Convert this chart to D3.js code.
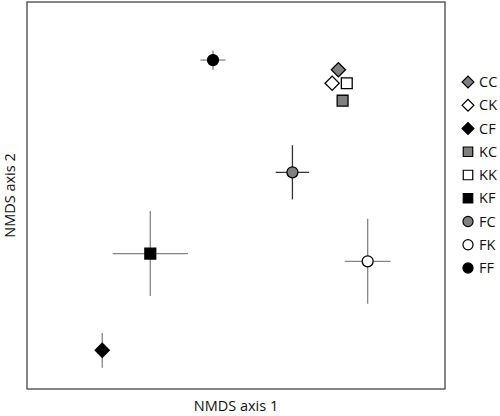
<!DOCTYPE html>
<html>
<head>
<meta charset="utf-8">
<script src="https://cdn.jsdelivr.net/npm/d3@7"></script>
<style>
  body { margin: 0; background: #fff; }
  text { font-family: "Open Sans", "Liberation Sans", sans-serif; fill: #111; }
</style>
</head>
<body>
<div id="chart"></div>
<script>
const width = 500, height = 416;
const margin = {top: 2, right: 55, bottom: 27, left: 27};

// groups and NMDS coordinates (mean, with error)
const groups = ["CC", "CK", "CF", "KC", "KK", "KF", "FC", "FK", "FF"];
const xVals = [0.49, 0.46, -0.64, 0.51, 0.53, -0.41, 0.27, 0.63, -0.11];
const yVals = [0.65, 0.58, -0.80, 0.49, 0.58, -0.30, 0.12, -0.34, 0.70];
const xErr  = [0, 0, 0, 0, 0, 0.18, 0.08, 0.11, 0.06];
const yErr  = [0, 0, 0.09, 0, 0, 0.22, 0.14, 0.22, 0.05];

// first letter -> marker shape, second letter -> fill
const shapes = {C: "diamond", K: "square", F: "circle"};
const fills = {C: "#808080", K: "#ffffff", F: "#000000"};
const errColor = {FC: "#333"};

let svg = d3.select("#chart")
    .append("svg")
    .attr("width", width)
    .attr("height", height);

let plotW = width - margin.left - margin.right;
let plotH = height - margin.top - margin.bottom;

let x = d3.scaleLinear().domain([-1, 1]).range([margin.left, margin.left + plotW]);
let y = d3.scaleLinear().domain([-1, 1]).range([margin.top + plotH, margin.top]);

svg.append("rect")
    .attr("x", margin.left)
    .attr("y", margin.top)
    .attr("width", plotW)
    .attr("height", plotH)
    .attr("fill", "none")
    .attr("stroke", "#444")
    .attr("stroke-width", 1.3);

let data = groups.map(function(g, i) {
    return {name: g, x: xVals[i], y: yVals[i], ex: xErr[i], ey: yErr[i]};
});

function symbolPath(name, big) {
    let shape = shapes[name[0]];
    if (shape === "diamond") return d3.symbol(d3.symbolSquare, big ? 100 : 70)();
    if (shape === "square") return d3.symbol(d3.symbolSquare, big ? 118 : 90)();
    return d3.symbol(d3.symbolCircle, big ? 95 : 80)();
}

function rotation(name) {
    return shapes[name[0]] === "diamond" ? " rotate(45)" : "";
}

// error bars
let err = svg.append("g").attr("stroke-width", 1.3);
data.filter(d => d.ex > 0).forEach(function(d) {
    err.append("line")
        .attr("stroke", errColor[d.name] || "#858585")
        .attr("x1", x(d.x - d.ex)).attr("x2", x(d.x + d.ex))
        .attr("y1", y(d.y)).attr("y2", y(d.y));
});
data.filter(d => d.ey > 0).forEach(function(d) {
    err.append("line")
        .attr("stroke", errColor[d.name] || "#858585")
        .attr("x1", x(d.x)).attr("x2", x(d.x))
        .attr("y1", y(d.y - d.ey)).attr("y2", y(d.y + d.ey));
});

// points
svg.append("g").selectAll("path")
    .data(data)
    .enter()
    .append("path")
    .attr("d", function(d) { return symbolPath(d.name, true); })
    .attr("transform", function(d) {
        return `translate(${x(d.x)}, ${y(d.y)})` + rotation(d.name);
    })
    .attr("fill", function(d) { return fills[d.name[1]]; })
    .attr("stroke", "#000")
    .attr("stroke-width", 1.3);

// legend
let legend = svg.append("g");
let rowY = d3.scalePoint().domain(groups).range([82, 268]);
groups.forEach(function(g) {
    legend.append("path")
        .attr("d", symbolPath(g, false))
        .attr("transform", `translate(468, ${rowY(g)})` + rotation(g))
        .attr("fill", fills[g[1]])
        .attr("stroke", "#000")
        .attr("stroke-width", 1.2);
    legend.append("text")
        .attr("x", 479)
        .attr("y", rowY(g))
        .attr("dy", "0.36em")
        .style("font-size", "14.5px")
        .text(g);
});

// axis titles
svg.append("text")
    .attr("x", margin.left + plotW / 2)
    .attr("y", 411)
    .style("text-anchor", "middle")
    .style("font-size", "14.5px")
    .text("NMDS axis 1");

svg.append("text")
    .attr("transform", `translate(15, ${margin.top + plotH / 2}) rotate(-90)`)
    .style("text-anchor", "middle")
    .style("font-size", "14.5px")
    .text("NMDS axis 2");
</script>
</body>
</html>
